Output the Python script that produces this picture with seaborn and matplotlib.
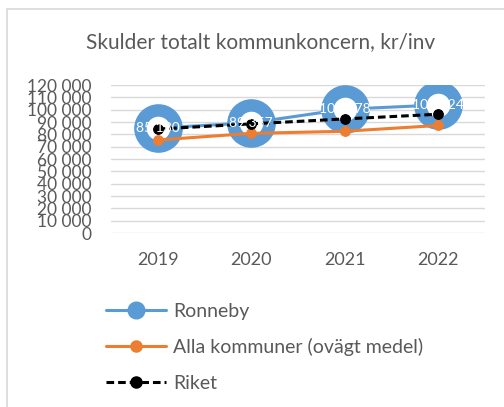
import matplotlib
matplotlib.use("Agg")
import matplotlib.pyplot as plt
from matplotlib.lines import Line2D
from matplotlib.patches import Rectangle
import seaborn as sns
import pandas as pd

years = ["2019", "2020", "2021", "2022"]
ronneby = [85130, 89357, 100378, 103824]
alla_kommuner = [75400, 80800, 82500, 87200]
riket = [84300, 88500, 92500, 96300]
y_ticks = list(range(0, 120001, 10000))

blue = "#5B9BD5"
orange = "#ED7D31"
grey_text = "#595959"

sns.set_style("white")
plt.rcParams["font.family"] = ["Lato", "DejaVu Sans"]

df = pd.DataFrame({"pos": range(len(years)), "Ronneby": ronneby,
                   "Alla": alla_kommuner, "Riket": riket})

fig = plt.figure(figsize=(5.04, 4.07), dpi=100)
ax = fig.add_axes([0.220, 0.4275, 0.742, 0.3636])

# chart border (cut off at right/bottom like the screenshot)
fig.patches.append(Rectangle((7 / 504, -0.1), 1.2, 1 - 9 / 407 + 0.1,
                             transform=fig.transFigure, fill=False,
                             edgecolor="#D9D9D9", lw=1.2))

# Ronneby: big ring markers
sns.lineplot(data=df, x="pos", y="Ronneby", ax=ax, color=blue, lw=2.2,
             marker="o", markersize=26, markerfacecolor="white",
             markeredgecolor=blue, markeredgewidth=9, zorder=3)
sns.lineplot(data=df, x="pos", y="Alla", ax=ax, color=orange, lw=2.2,
             marker="o", markersize=7, markerfacecolor=orange,
             markeredgecolor=orange, zorder=4)
sns.lineplot(data=df, x="pos", y="Riket", ax=ax, color="black", lw=2.2,
             marker="o", markersize=7, markerfacecolor="black",
             markeredgecolor="black", dashes=(2.5, 1.3), zorder=5)

for i, v in enumerate(ronneby):
    ax.text(i, v, f"{v:,}".replace(",", " "), color="white", fontsize=10,
            ha="center", va="center", zorder=6)

ax.set_xlim(-0.5, 3.5)
ax.set_ylim(0, 120000)
ax.set_xticks(range(len(years)))
ax.set_xticklabels(years)
ax.set_yticks(y_ticks)
ax.set_yticklabels([f"{t:,}".replace(",", " ") for t in y_ticks])
ax.tick_params(axis="x", labelsize=13, colors=grey_text, length=0, pad=14)
ax.tick_params(axis="y", labelsize=12.5, colors=grey_text, length=0, pad=14)
ax.grid(axis="y", color="#D9D9D9", lw=1)
ax.set_axisbelow(True)
for s in ax.spines.values():
    s.set_visible(False)
ax.set_xlabel("")
ax.set_ylabel("")

fig.text(261 / 504, 1 - 42 / 407, "Skulder totalt kommunkoncern, kr/inv",
         ha="center", va="center", fontsize=15, color=grey_text)

handles = [
    Line2D([], [], color=blue, lw=2.2, marker="o", markersize=12),
    Line2D([], [], color=orange, lw=2.2, marker="o", markersize=8),
    Line2D([], [], color="black", lw=2.2, marker="o", markersize=8,
           dashes=(2.5, 1.3)),
]
labels = ["Ronneby", "Alla kommuner (ovägt medel)", "Riket"]
leg = fig.legend(handles, labels, loc="upper left",
                 bbox_to_anchor=(96 / 504, 1 - 293 / 407), frameon=False,
                 fontsize=14, handlelength=3.1, handletextpad=0.35,
                 labelspacing=0.95, borderpad=0)
for t in leg.get_texts():
    t.set_color(grey_text)

fig.savefig("out.png", dpi=100)
